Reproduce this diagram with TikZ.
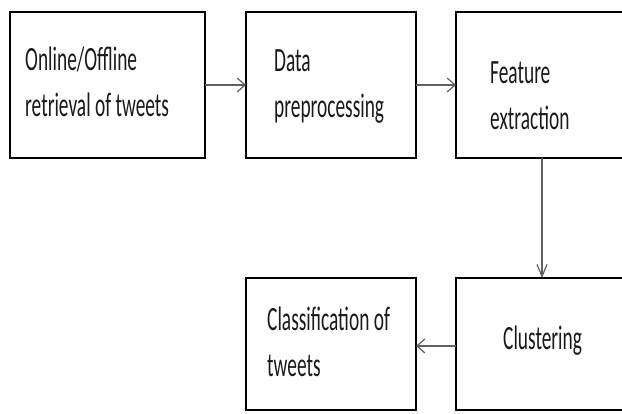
\documentclass[tikz,border=0pt]{standalone}
\usepackage{fontspec}
\setmainfont{Carlito}[FakeStretch=0.57]
\usetikzlibrary{arrows.meta}
\definecolor{arrowgray}{HTML}{606060}
\definecolor{textgray}{HTML}{1A1A1A}
\begin{document}
\begin{tikzpicture}[x=1pt,y=-1pt,
  stagebox/.style={draw=black,line width=2.8pt,rectangle,inner sep=0pt,outer sep=0pt,anchor=north west},
  stagetext/.style={anchor=base west,inner sep=0pt,text=textgray,font=\fontsize{34}{46}\selectfont,align=left},
  flow/.style={draw=arrowgray,line width=1.4pt,-{Straight Barb[length=8pt,width=14pt,line width=1.2pt]}},
  vflow/.style={draw=arrowgray,line width=1.4pt,-{Straight Barb[length=12pt,width=10pt,line width=1.2pt]}}]
\useasboundingbox (0,0) rectangle (622,414);
\node[stagebox,minimum width=195pt,minimum height=146pt] (b1) at (10,12) {};
\node[stagebox,minimum width=170pt,minimum height=146pt] (b2) at (246,12) {};
\node[stagebox,minimum width=172pt,minimum height=146pt] (b3) at (456,12) {};
\node[stagebox,minimum width=170pt,minimum height=132pt] (b4) at (246,278) {};
\node[stagebox,minimum width=172pt,minimum height=132pt] (b5) at (456,278) {};
\node[stagetext] (t1) at (25,117) {Online/Offline\\retrieval of tweets};
\node[stagetext] (t2) at (274,118) {Data\\preprocessing};
\node[stagetext] (t3) at (490,130) {Feature\\extraction};
\node[stagetext] (t4) at (267,377) {Classification of\\tweets};
\node[stagetext] (t5) at (503,350) {Clustering};
\draw[flow] (b1.east) -- (b2.west);
\draw[flow] (b2.east) -- (b3.west);
\draw[vflow] (b3.south) -- (b5.north);
\draw[flow] ([yshift=-2pt]b5.west) -- ([yshift=-2pt]b4.east);
\end{tikzpicture}
\end{document}
